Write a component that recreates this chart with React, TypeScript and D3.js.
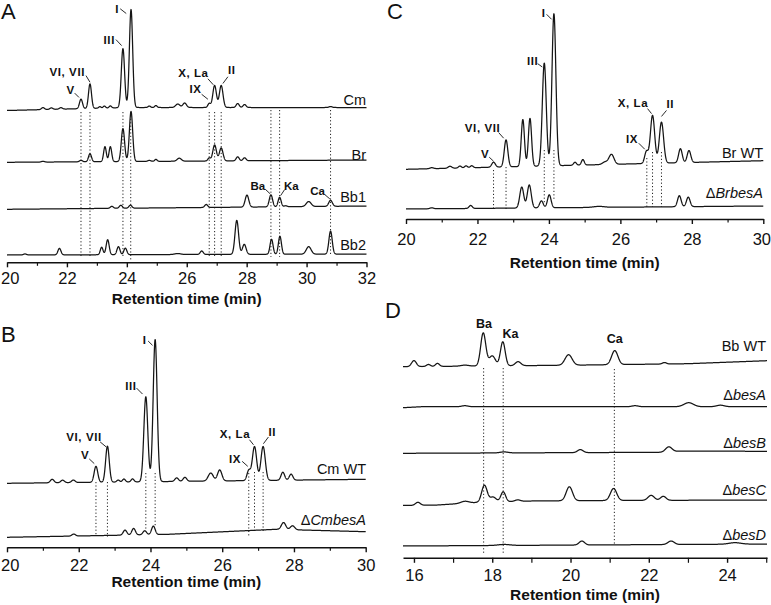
import React, { useEffect, useRef } from "react";
import * as d3 from "d3";

const FONT = "'Liberation Sans', Arial, Helvetica, sans-serif";
const W = 771;
const H = 605;

// ================= DATA =================
// peaks: [retention time (min), height (signal units), width sigma (min, default 0.05)]
type Peak = number[];
type Knot = number[];

// ---- Panel A ----
const ticksA = [20, 22, 24, 26, 28, 30, 32];
const minorA = [21, 23, 25, 27, 29, 31];
const peaksCmA: Peak[] = [[21.2, 2], [21.48, 1.5], [21.8, 1.5], [22.47, 9.5], [22.77, 24.5], [23.1, 1.5, 0.04], [23.25, 2, 0.04], [23.45, 2, 0.04], [23.87, 59, 0.055], [24.14, 98, 0.055], [24.75, 1.5, 0.04], [24.97, 2, 0.04], [25.7, 3.5, 0.07], [25.93, 4.5, 0.06], [26.75, 4, 0.045], [26.93, 22, 0.06], [27.15, 22, 0.06], [27.7, 4], [27.93, 3], [30.8, 1]];
const baseCmA: Knot[] = [[20, 0], [24, 3], [32, 3]];
const peaksBrA: Peak[] = [[21.2, 0.8], [22.47, 1.5], [22.77, 8], [23.27, 15, 0.045], [23.45, 15, 0.045], [23.87, 33, 0.055], [24.14, 50, 0.055], [24.75, 1], [24.97, 2, 0.04], [25.75, 3, 0.07], [26.75, 3, 0.045], [26.93, 16, 0.06], [27.15, 13, 0.06], [27.7, 4], [27.93, 3]];
const baseBrA: Knot[] = [[20, 0], [32, 2.3]];
const peaksBb1A: Peak[] = [[23.5, 2], [23.8, 3], [24.12, 3], [26.65, 3], [28.01, 12, 0.06], [28.81, 12, 0.055], [29.1, 9.5], [29.3, 1], [30.07, 5, 0.08], [30.8, 6, 0.06]];
const baseBb1A: Knot[] = [[20, 0], [32, 3.3]];
const peaksBb2A: Peak[] = [[20.6, 1], [21.75, 6.5], [23.16, 7.5, 0.045], [23.36, 15], [23.72, 8], [23.95, 6.5], [25.7, 1, 0.1], [26.5, 3.5], [27.67, 34, 0.06], [27.92, 10, 0.06], [28.83, 15], [29.11, 18], [30.07, 7.5, 0.08], [30.8, 23, 0.055]];
const baseBb2A: Knot[] = [[20, 0], [32, 1]];
const namesA = ["Cm", "Br", "Bb1", "Bb2"];
const peakLabelsA = [
  { text: "I", trace: 0, t: 24.14 },
  { text: "III", trace: 0, t: 23.87 },
  { text: "VI, VII", trace: 0, t: 22.77 },
  { text: "V", trace: 0, t: 22.47 },
  { text: "X, La", trace: 0, t: 26.93 },
  { text: "IX", trace: 0, t: 26.75 },
  { text: "II", trace: 0, t: 27.15 },
  { text: "Ba", trace: 2, t: 28.81 },
  { text: "Ka", trace: 2, t: 29.1 },
  { text: "Ca", trace: 2, t: 30.8 },
];
const markerTimesA = [22.47, 22.77, 23.87, 24.13, 26.75, 26.93, 27.15, 28.81, 29.1, 30.8];

// ---- Panel B ----
const ticksB = [20, 22, 24, 26, 28, 30];
const minorB = [21, 23, 25, 27, 29];
const peaksCmWT: Peak[] = [[21.26, 3.5], [21.55, 2.5], [21.85, 2.5], [22.48, 16], [22.8, 36], [23.1, 2, 0.04], [23.26, 3, 0.04], [23.5, 3, 0.04], [23.87, 85, 0.055], [24.13, 142, 0.055], [24.73, 3.5], [24.96, 4], [25.68, 8, 0.07], [25.93, 11, 0.06], [26.74, 10], [26.9, 34, 0.06], [27.14, 34, 0.06], [27.69, 8], [27.92, 6]];
const baseCmWT: Knot[] = [[20, 0], [30, 4]];
const peaksCmBesA: Peak[] = [[21.86, 2], [23.29, 5], [23.53, 6.5], [23.84, 4], [24.08, 8.5], [27.71, 7, 0.06], [27.96, 4, 0.06]];
const baseCmBesA: Knot[] = [[20, 0], [24.5, 3], [27.5, 8], [30, 5.6]];
const namesB = ["Cm WT", "\u0394CmbesA"];
const peakLabelsB = [
  { text: "I", trace: 0, t: 24.13 },
  { text: "III", trace: 0, t: 23.87 },
  { text: "VI, VII", trace: 0, t: 22.8 },
  { text: "V", trace: 0, t: 22.48 },
  { text: "X, La", trace: 0, t: 26.9 },
  { text: "II", trace: 0, t: 27.14 },
  { text: "IX", trace: 0, t: 26.74 },
];
const markerTimesB = [22.48, 22.8, 23.87, 24.13, 26.74, 26.9, 27.14];

// ---- Panel C ----
const ticksC = [20, 22, 24, 26, 28, 30];
const minorC = [21, 23, 25, 27, 29];
const peaksBrWT: Peak[] = [[20.72, 1], [21.23, 2], [21.51, 2, 0.04], [21.68, 2, 0.04], [21.84, 2, 0.04], [22.45, 5], [22.8, 27], [23.27, 47, 0.045], [23.47, 48, 0.045], [23.87, 103, 0.055], [24.14, 152, 0.055], [24.73, 3, 0.04], [24.95, 5.5, 0.04], [25.57, 2.5, 0.07], [25.75, 10, 0.07], [26.73, 12], [26.9, 48, 0.06], [27.15, 41, 0.06], [27.68, 14], [27.92, 12]];
const baseBrWT: Knot[] = [[20, 0], [30, 8.6]];
const peaksBrBesA: Peak[] = [[20.72, 1], [21.81, 3, 0.045], [23.24, 21, 0.055], [23.45, 23, 0.055], [23.79, 7], [24.01, 13], [25.4, 1, 0.15], [27.65, 11], [27.9, 9.5]];
const baseBrBesA: Knot[] = [[20, 0], [30, 3]];
const namesC = ["Br WT", "\u0394BrbesA"];
const peakLabelsC = [
  { text: "I", trace: 0, t: 24.14 },
  { text: "III", trace: 0, t: 23.87 },
  { text: "VI, VII", trace: 0, t: 22.8 },
  { text: "V", trace: 0, t: 22.45 },
  { text: "X, La", trace: 0, t: 26.9 },
  { text: "II", trace: 0, t: 27.15 },
  { text: "IX", trace: 0, t: 26.73 },
];
const markerTimesC = [22.45, 22.8, 23.87, 24.14, 26.74, 26.9, 27.15];

// ---- Panel D ----
const ticksD = [16, 18, 20, 22, 24];
const minorD = [17, 19, 21, 23, 25];
const peaksBbWT: Peak[] = [[16.0, 6, 0.06], [16.37, 2], [16.6, 3], [17.3, 1, 0.1], [17.77, 33, 0.065], [18.0, 10, 0.08], [18.27, 24, 0.06], [18.66, 4, 0.07], [19.95, 10.5, 0.09], [21.13, 14, 0.08], [22.4, 1.5]];
const baseBbWT: Knot[] = [[15.72, 0], [20, 1.5], [23, 3], [25.02, 6]];
const peaksBesA: Peak[] = [[17.3, 1, 0.08], [21.65, 1, 0.08], [23.02, 4, 0.12], [23.83, 1.5, 0.1]];
const baseBesA: Knot[] = [[15.72, -1], [16.2, 0], [25.02, 0]];
const peaksBesB: Peak[] = [[18.3, 1, 0.1], [20.25, 3, 0.07], [22.51, 5, 0.08]];
const baseBesB: Knot[] = [[15.72, 0], [22.3, 1], [22.8, 2.2], [25.02, 2]];
const peaksBesC: Peak[] = [[16.1, 3, 0.06], [17.3, 2, 0.1], [17.8, 17, 0.07], [18.02, 5, 0.08], [18.28, 10, 0.06], [18.65, 1.5, 0.07], [19.97, 14, 0.08], [21.1, 12, 0.08], [22.06, 5, 0.08], [22.37, 4, 0.07]];
const baseBesC: Knot[] = [[15.72, 0], [16.6, 0.5], [17.6, 3], [19, 4.5], [21, 5], [25.02, 5.5]];
const peaksBesD: Peak[] = [[18.3, 1, 0.15], [20.29, 4, 0.07], [22.57, 3.5, 0.08], [24.2, 1.5, 0.15]];
const baseBesD: Knot[] = [[15.72, 0], [25.02, 2]];
const namesD = ["Bb WT", "\u0394besA", "\u0394besB", "\u0394besC", "\u0394besD"];
const peakLabelsD = [
  { text: "Ba", trace: 0, t: 17.77 },
  { text: "Ka", trace: 0, t: 18.27 },
  { text: "Ca", trace: 0, t: 21.13 },
];
const markerTimesD = [17.78, 18.28, 21.12];

// ================= LAYOUT =================
type Ann = { anchor: string; lab: number[]; lead?: number[] };
const panels = [
  {
    letter: "A", letterPos: [1, 18.5], domain: [20, 32], xRange: [7, 366.5], axisY: 262.3, tickPad: 5, titleY: 303.5,
    ticks: ticksA, minor: minorA, minorLen: 3.5,
    traces: [
      { name: namesA[0], peaks: peaksCmA, base: baseCmA, offset: 110.5, labelY: 99.5 },
      { name: namesA[1], peaks: peaksBrA, base: baseBrA, offset: 162.3, labelY: 154.7 },
      { name: namesA[2], peaks: peaksBb1A, base: baseBb1A, offset: 209.3, labelY: 197 },
      { name: namesA[3], peaks: peaksBb2A, base: baseBb2A, offset: 255, labelY: 245.3 },
    ],
    labelX: 366, labelSize: 11.5,
    peakLabels: peakLabelsA,
    ann: [
      { anchor: "end", lab: [-12, -1], lead: [-10.8, -0.7, -4.8, 4] },
      { anchor: "end", lab: [-8, -9], lead: [-7, -9, -1.3, -3] },
      { anchor: "end", lab: [-5, -11.5], lead: [-4, -8.3, 0, -1.7] },
      { anchor: "end", lab: [-6.3, -9.5], lead: [-6.3, -6, -2, -1.7] },
      { anchor: "end", lab: [-6, -12], lead: [-6.7, -6.7, -1.3, -0.7] },
      { anchor: "end", lab: [-7.6, -14], lead: [-7.6, -9, -1.3, -4] },
      { anchor: "start", lab: [6.7, -15], lead: [6.7, -8.7, 1.7, -2] },
      { anchor: "end", lab: [-5.7, -9], lead: [-5.7, -5.7, -0.7, -1] },
      { anchor: "start", lab: [4.3, -11.7], lead: [5, -7.7, 1, -1.7] },
      { anchor: "end", lab: [-5.7, -9.2], lead: [-5.7, -5.7, -0.7, -1.4] },
    ] as Ann[],
    markers: markerTimesA,
    markerTop: [112, 112, 112, 112, 112, 112, 112, 110, 110, 110],
    markerBottom: [258, 258, 258, 260, 258, 258, 258, 257, 257, 254],
  },
  {
    letter: "B", letterPos: [1, 342], domain: [20, 30], xRange: [7, 365.7], axisY: 547.3, tickPad: 7, titleY: 587,
    ticks: ticksB, minor: minorB, minorLen: 3.5,
    traces: [
      { name: namesB[0], peaks: peaksCmWT, base: baseCmWT, offset: 483.3, labelY: 469 },
      { name: namesB[1], peaks: peaksCmBesA, base: baseCmBesA, offset: 537.3, labelY: 519.5 },
    ],
    labelX: 366, labelSize: 11.5,
    peakLabels: peakLabelsB,
    ann: [
      { anchor: "end", lab: [-8.6, 0], lead: [-7, 1.4, -2.6, 5.7] },
      { anchor: "end", lab: [-9.3, -10.5], lead: [-9.3, -8.7, -3.3, -2.7] },
      { anchor: "end", lab: [-5.6, -9], lead: [-7.3, -4.3, -1.3, 0.7] },
      { anchor: "end", lab: [-6.7, -11.2], lead: [-6.7, -7.4, -1.7, -2.7] },
      { anchor: "end", lab: [-4.3, -12.7], lead: [-5, -6.7, -1, -1.7] },
      { anchor: "start", lab: [5.3, -14.7], lead: [5.3, -9.4, 0.3, -2.7] },
      { anchor: "end", lab: [-7.6, -11], lead: [-6.6, -8.3, -1, -3.3] },
    ] as Ann[],
    markers: markerTimesB,
    markerTop: [482, 482, 473, 473, 473, 472, 472],
    markerBottom: [535, 537, 530, 527, 537, 533, 533],
  },
  {
    letter: "C", letterPos: [387, 18.5], domain: [20, 30], xRange: [406, 763.3], axisY: 219, tickPad: 9, titleY: 268,
    ticks: ticksC, minor: minorC, minorLen: 3.5,
    traces: [
      { name: namesC[0], peaks: peaksBrWT, base: baseBrWT, offset: 169.3, labelY: 153.3 },
      { name: namesC[1], peaks: peaksBrBesA, base: baseBrBesA, offset: 209, labelY: 193 },
    ],
    labelX: 763, labelSize: 11.5,
    peakLabels: peakLabelsC,
    ann: [
      { anchor: "end", lab: [-8.3, -1], lead: [-7.3, 0.6, -2.3, 5.6] },
      { anchor: "end", lab: [-6, -2], lead: [-6.6, 0.7, -2, 4] },
      { anchor: "end", lab: [-5.7, -11.5], lead: [-7.4, -7.3, -2.4, -1.7] },
      { anchor: "end", lab: [-4.3, -8.7], lead: [-4.3, -5, 0, -1] },
      { anchor: "end", lab: [-4.4, -12], lead: [-5, -6.7, -1, -1.7] },
      { anchor: "start", lab: [5, -17.7], lead: [5, -11.7, 0, -5.7] },
      { anchor: "end", lab: [-8.4, -11.7], lead: [-7.7, -7.4, -1.7, -1.4] },
    ] as Ann[],
    markers: markerTimesC,
    markerTop: [170, 167, 150, 150, 158, 152, 152],
    markerBottom: [208, 210, 203, 200, 207, 207, 207],
  },
  {
    letter: "D", letterPos: [385, 318], domain: [15.72, 25.02], xRange: [403, 767], axisY: 557.8, tickPad: 6, titleY: 600,
    ticks: ticksD, minor: minorD, minorLen: 5,
    traces: [
      { name: namesD[0], peaks: peaksBbWT, base: baseBbWT, offset: 366.7, labelY: 346 },
      { name: namesD[1], peaks: peaksBesA, base: baseBesA, offset: 406.7, labelY: 395 },
      { name: namesD[2], peaks: peaksBesB, base: baseBesB, offset: 453.3, labelY: 443 },
      { name: namesD[3], peaks: peaksBesC, base: baseBesC, offset: 505.5, labelY: 490 },
      { name: namesD[4], peaks: peaksBesD, base: baseBesD, offset: 546, labelY: 535 },
    ],
    labelX: 766, labelSize: 12.5,
    peakLabels: peakLabelsD,
    ann: [
      { anchor: "middle", lab: [0.7, -9.3] },
      { anchor: "middle", lab: [7.7, -8.3] },
      { anchor: "middle", lab: [0, -12] },
    ] as Ann[],
    markers: markerTimesD,
    markerTop: [368, 368, 369],
    markerBottom: [555, 555, 545],
  },
];

// ================= HELPERS =================
function levelAt(knots: Knot[], t: number) {
  const xs = knots.map((k) => k[0]);
  const ys = knots.map((k) => k[1]);
  return d3.scaleLinear().domain(xs).range(ys).clamp(true)(t);
}
function signalAt(peaks: Peak[], base: Knot[], t: number) {
  let s = levelAt(base, t);
  for (const p of peaks) {
    const sg = p[2] ?? 0.05;
    const z = (t - p[0]) / sg;
    s += p[1] * Math.exp(-0.5 * z * z);
  }
  return s;
}

function TraceName({ name, x, y }: { name: string; x: number; y: number }) {
  if (name.startsWith("\u0394")) {
    return (
      <text x={x} y={y} dy="0.35em" textAnchor="end" fontSize={14.5} fontFamily={FONT} fill="#111">
        <tspan>{"\u0394"}</tspan>
        <tspan fontStyle="italic">{name.slice(1)}</tspan>
      </text>
    );
  }
  return (
    <text x={x} y={y} dy="0.35em" textAnchor="end" fontSize={14.5} fontFamily={FONT} fill="#111">
      {name}
    </text>
  );
}

function Panel({ cfg }: { cfg: any }) {
  const axisRef = useRef<SVGGElement>(null);
  const x = d3.scaleLinear().domain(cfg.domain).range(cfg.xRange);
  const sy = d3.scaleLinear().domain([0, 100]).range([0, 100]);

  useEffect(() => {
    const g = d3.select(axisRef.current);
    g.selectAll("*").remove();
    const major = g.append("g");
    major.call(
      d3.axisBottom(x).tickValues(cfg.ticks).tickSize(5).tickSizeOuter(0).tickPadding(cfg.tickPad).tickFormat(d3.format("d")) as any
    );
    major.attr("font-size", null).attr("font-family", null);
    major.select(".domain").attr("stroke", "#111").attr("stroke-width", 1.6);
    major.selectAll(".tick line").attr("stroke", "#111").attr("stroke-width", 1.4);
    major.selectAll(".tick text").attr("font-size", 16.5).attr("font-family", FONT).attr("fill", "#111");
    // keep edge tick labels fully inside the picture
    major.selectAll<SVGTextElement, number>(".tick text").each(function (d) {
      const bb = this.getBBox();
      const cx = x(d);
      const left = cx + bb.x;
      const right = cx + bb.x + bb.width;
      let shift = 0;
      if (left < 0.5) shift = 0.5 - left;
      if (right > W - 0.5) shift = W - 0.5 - right;
      if (shift !== 0) d3.select(this).attr("x", shift);
    });
    const minor = g.append("g");
    minor.call(d3.axisBottom(x).tickValues(cfg.minor).tickSize(cfg.minorLen).tickSizeOuter(0).tickFormat(() => "") as any);
    minor.select(".domain").remove();
    minor.selectAll(".tick line").attr("stroke", "#111").attr("stroke-width", 1.2);
  }, []);

  const ts = d3.range(cfg.domain[0], cfg.domain[1] + 1e-9, 0.004);
  const yOf = (tr: any, t: number) => tr.offset - sy(signalAt(tr.peaks, tr.base, t));
  const [x0, x1] = cfg.xRange;

  return (
    <g>
      <text x={cfg.letterPos[0]} y={cfg.letterPos[1]} fontSize={22} fontFamily={FONT} fill="#111">
        {cfg.letter}
      </text>
      {cfg.markers.map((t: number, i: number) => (
        <line key={"m" + i} x1={x(t)} x2={x(t)} y1={cfg.markerTop[i]} y2={cfg.markerBottom[i]} stroke="#222" strokeWidth={1} strokeDasharray="1.2,2.2" />
      ))}
      {cfg.traces.map((tr: any, i: number) => {
        const line = d3.line<number>().x((t) => x(t)).y((t) => yOf(tr, t));
        return <path key={"t" + i} d={line(ts) || ""} fill="none" stroke="#151515" strokeWidth={1.25} strokeLinejoin="round" />;
      })}
      {cfg.traces.map((tr: any, i: number) => (
        <TraceName key={"n" + i} name={tr.name} x={cfg.labelX} y={tr.labelY} />
      ))}
      {cfg.peakLabels.map((pl: any, i: number) => {
        const a: Ann = cfg.ann[i];
        const tr = cfg.traces[pl.trace];
        const ax = x(pl.t);
        const ay = yOf(tr, pl.t);
        return (
          <g key={"p" + i}>
            <text x={ax + a.lab[0]} y={ay + a.lab[1]} dy="0.35em" textAnchor={a.anchor} fontSize={cfg.labelSize} fontWeight="bold" fontFamily={FONT} fill="#111" letterSpacing={/^[IVX]/.test(pl.text) ? 0.6 : 0}>
              {pl.text}
            </text>
            {a.lead && (
              <line x1={ax + a.lead[0]} y1={ay + a.lead[1]} x2={ax + a.lead[2]} y2={ay + a.lead[3]} stroke="#111" strokeWidth={0.9} />
            )}
          </g>
        );
      })}
      <g ref={axisRef} transform={`translate(0,${cfg.axisY})`} />
      <text x={(x0 + x1) / 2} y={cfg.titleY} textAnchor="middle" fontSize={15.5} fontWeight="bold" fontFamily={FONT} fill="#111">
        Retention time (min)
      </text>
    </g>
  );
}

export default function App() {
  return (
    <svg width={W} height={H} style={{ position: "absolute", left: 0, top: 0, background: "#fff" }}>
      <rect x={0} y={0} width={W} height={H} fill="#fff" />
      {panels.map((p) => (
        <Panel key={p.letter} cfg={p} />
      ))}
    </svg>
  );
}
